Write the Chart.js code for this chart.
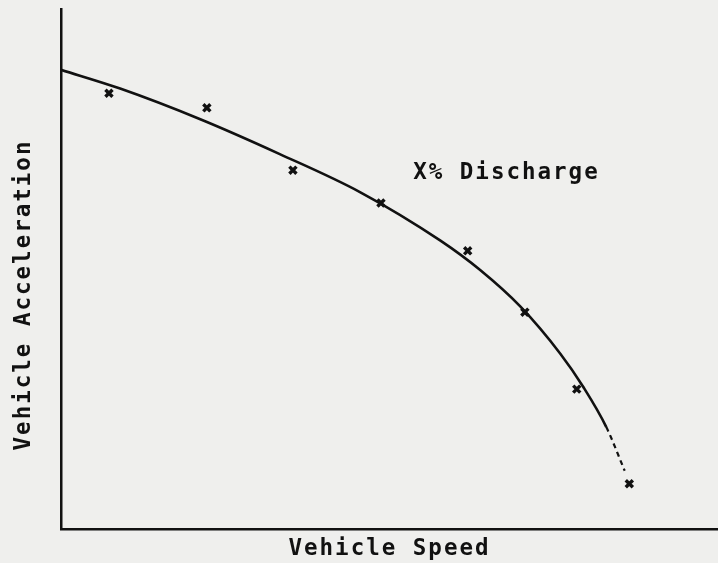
<!DOCTYPE html>
<html>
<head>
<meta charset="utf-8">
<script src="https://cdn.jsdelivr.net/npm/chart.js@4"></script>
<style>
    html, body { margin: 0; padding: 0; background: #efefed; }
    #wrap { width: 718px; height: 563px; position: relative; }
</style>
</head>
<body>
<div id="wrap"><canvas id="accel-chart"></canvas></div>
<script>
// fitted curve, speed vs acceleration (arbitrary units, 0-100)
const curveSpeed = [0, 9.0, 21.2, 33.3, 45.5, 57.7, 63.8, 69.9, 76.0, 79.5, 83.0, 85.8];
const curveAccel = [88.3, 84.7, 78.8, 72.1, 64.8, 55.5, 49.8, 42.8, 33.7, 27.3, 19.6, 11.2];

// measured points
const pointSpeed = [7.3, 22.2, 35.3, 48.7, 61.9, 70.6, 78.5, 86.5];
const pointAccel = [83.8, 81.0, 69.0, 62.7, 53.5, 41.7, 26.9, 8.7];

const xTitle = "Vehicle Speed";
const yTitle = "Vehicle Acceleration";
const noteText = "X% Discharge";
const noteAt = [53.6, 68.4];

const ink = "#111111";
const typeFont = "bold 22.5px 'DejaVu Sans Mono'";

function pairs(xs, ys) {
    return xs.map(function(x, i) { return { x: x, y: ys[i] }; });
}

// typewriter-style spacing plus the free-standing labels
const lettering = {
    id: "lettering",
    beforeDraw: function(chart) {
        chart.ctx.letterSpacing = "2px";
    },
    afterDraw: function(chart) {
        const ctx = chart.ctx;
        const sx = chart.scales.x, sy = chart.scales.y;
        ctx.save();
        ctx.letterSpacing = "2px";
        ctx.font = typeFont;
        ctx.fillStyle = ink;
        ctx.textBaseline = "middle";

        ctx.textAlign = "left";
        ctx.fillText(noteText, sx.getPixelForValue(noteAt[0]), sy.getPixelForValue(noteAt[1]));

        ctx.translate(24, (chart.chartArea.top + chart.chartArea.bottom) / 2 + 26);
        ctx.rotate(-Math.PI / 2);
        ctx.textAlign = "center";
        ctx.fillText(yTitle, 0, 0);
        ctx.restore();
    }
};

document.addEventListener("DOMContentLoaded", function() {
    const lastSeg = curveSpeed.length - 2;
    new Chart(document.getElementById("accel-chart"), {
        type: 'line',
        data: {
            datasets: [
                {
                    label: "fit",
                    data: pairs(curveSpeed, curveAccel),
                    borderColor: ink,
                    borderWidth: 2.6,
                    pointRadius: 0,
                    cubicInterpolationMode: 'monotone',
                    segment: {
                        borderDash: function(ctx) { return ctx.p0DataIndex === lastSeg ? [5, 4] : undefined; },
                        borderWidth: function(ctx) { return ctx.p0DataIndex === lastSeg ? 2.2 : undefined; }
                    }
                },
                {
                    label: "measured",
                    data: pairs(pointSpeed, pointAccel),
                    showLine: false,
                    pointStyle: 'crossRot',
                    pointRadius: 5,
                    borderColor: ink,
                    pointBorderWidth: 3.4
                }
            ]
        },
        options: {
            responsive: true,
            maintainAspectRatio: false,
            animation: false,
            layout: { autoPadding: false, padding: { top: 9, right: 0, bottom: 0, left: 0 } },
            scales: {
                x: {
                    type: 'linear',
                    min: 0,
                    max: 100,
                    ticks: { display: false },
                    grid: { display: false, drawTicks: false },
                    border: { color: ink, width: 2.5 },
                    title: {
                        display: true,
                        text: xTitle,
                        color: ink,
                        font: { family: "'DejaVu Sans Mono'", size: 22.5, weight: 'bold' },
                        padding: { top: 0, bottom: 0 }
                    },
                    afterFit: function(s) { s.height = 34; }
                },
                y: {
                    type: 'linear',
                    min: 0,
                    max: 100,
                    ticks: { display: false },
                    grid: { display: false, drawTicks: false },
                    border: { color: ink, width: 2.5 },
                    afterFit: function(s) { s.width = 61; }
                }
            },
            plugins: {
                legend: { display: false },
                tooltip: { enabled: false }
            }
        },
        plugins: [lettering]
    });
});
</script>
</body>
</html>
